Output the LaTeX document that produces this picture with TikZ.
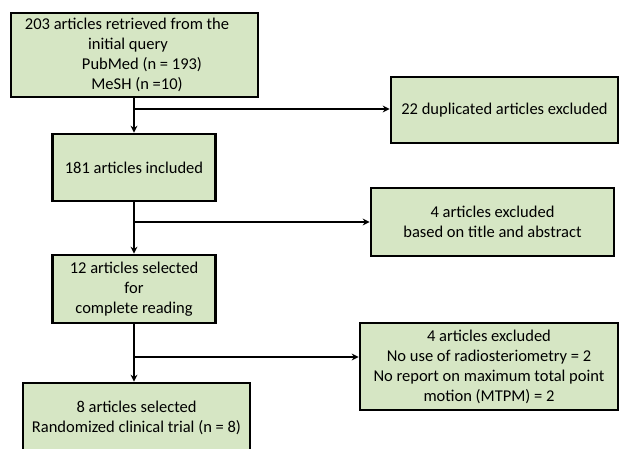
\documentclass[tikz,border=0pt]{standalone}
\usepackage{fontspec}
\setmainfont{Carlito}
\usetikzlibrary{arrows.meta}
\definecolor{boxfill}{RGB}{214,230,196}
\begin{document}
\begin{tikzpicture}[x=1pt,y=-1pt,
  box/.style={draw=black, line width=2.7pt, fill=boxfill, align=center,
    inner sep=0pt, font=\fontsize{16.5}{20}\selectfont},
  arr/.style={draw=black, line width=2pt, -{Stealth[length=7pt,width=7pt]}}]
\useasboundingbox (0,0) rectangle (619,448);
\fill[white] (0,0) rectangle (619,448);
\node[box, minimum width=247pt, minimum height=84pt] (b1) at (134.5,55)
  {203 articles retrieved from the\hspace*{15pt}\mbox{}\\\hspace*{-13pt}initial query\\\hspace*{15pt}PubMed (n = 193)\\\hspace*{5pt}MeSH (n =10)};
\node[box, minimum width=163pt, minimum height=67pt] (b2) at (134,167.5) {181 articles included};
\node[box, minimum width=163pt, minimum height=68pt] (b3) at (134,289) {12 articles selected\\for\\complete reading};
\node[box, minimum width=227pt, minimum height=69pt] (b5) at (136.5,417.5) {8 articles selected\\Randomized clinical trial (n = 8)};
\node[box, minimum width=227pt, minimum height=66pt] (e1) at (504.5,110) {22 duplicated articles excluded};
\node[box, minimum width=243pt, minimum height=68pt] (e2) at (492.5,222) {4 articles excluded\\based on title and abstract};
\node[box, minimum width=258pt, minimum height=87pt] (e3) at (489,366.5) {4 articles excluded\\No use of radiosteriometry = 2\\No report on maximum total point\\motion (MTPM) = 2};
\coordinate (j1) at (134,109);
\coordinate (j2) at (134,222);
\coordinate (j3) at (134,357);
\draw[arr] (b1.south -| j1) -- (b2.north -| j1);
\draw[arr] (b2.south -| j2) -- (b3.north -| j2);
\draw[arr] (b3.south -| j3) -- (b5.north -| j3);
\draw[arr] (j1) -- (j1 -| e1.west);
\draw[arr] (j2) -- (j2 -| e2.west);
\draw[arr] (j3) -- (j3 -| e3.west);
\end{tikzpicture}
\end{document}
